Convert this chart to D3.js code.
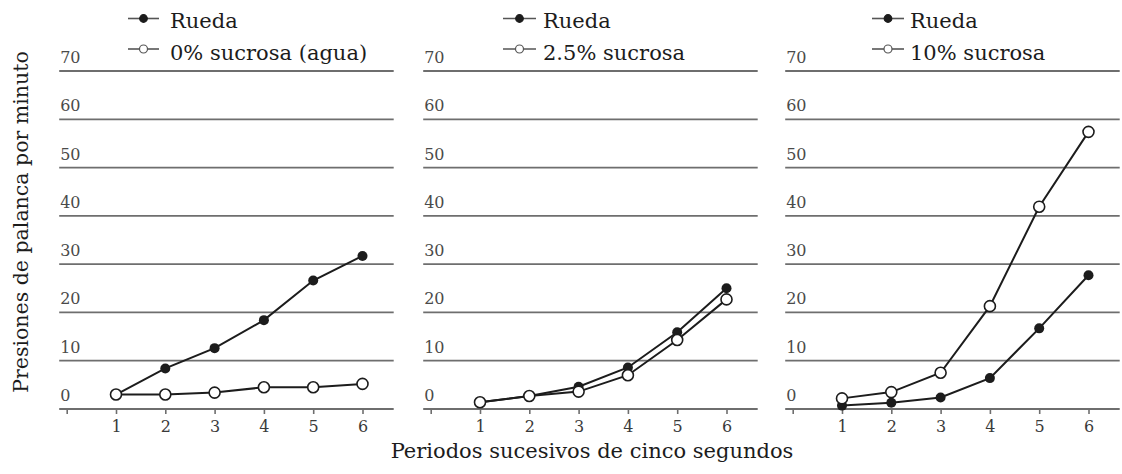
<!DOCTYPE html>
<html>
<head>
<meta charset="utf-8">
<script src="https://cdn.jsdelivr.net/npm/d3@7/dist/d3.min.js"></script>
<style>
  html, body { margin: 0; padding: 0; background: #fff; }
  svg { display: block; }
  text { font-family: "DejaVu Serif", "Liberation Serif", serif; }
</style>
</head>
<body>
<svg id="chart" width="1122" height="474"></svg>
<script>
// ---- data ----
const periods = [1, 2, 3, 4, 5, 6];
const yTicks = [0, 10, 20, 30, 40, 50, 60, 70];
const xTickValues = [0, 1, 2, 3, 4, 5, 6];
const wheelLabel = "Rueda";
const sucroseLabels = ["0% sucrosa (agua)", "2.5% sucrosa", "10% sucrosa"];
const wheel0 = [3.0, 8.4, 12.6, 18.4, 26.6, 31.7];
const sucrose0 = [3.0, 3.0, 3.4, 4.5, 4.5, 5.2];
const wheel25 = [1.4, 2.7, 4.6, 8.6, 15.9, 25.0];
const sucrose25 = [1.4, 2.7, 3.6, 7.0, 14.3, 22.7];
const wheel10 = [0.7, 1.3, 2.4, 6.4, 16.7, 27.7];
const sucrose10 = [2.2, 3.5, 7.5, 21.3, 41.9, 57.4];
const yTitle = "Presiones de palanca por minuto";
const xTitle = "Periodos sucesivos de cinco segundos";

const panels = [
  { wheel: wheel0, sucrose: sucrose0, label: sucroseLabels[0] },
  { wheel: wheel25, sucrose: sucrose25, label: sucroseLabels[1] },
  { wheel: wheel10, sucrose: sucrose10, label: sucroseLabels[2] }
];

// ---- layout ----
const svg = d3.select("#chart");
const origins = [66.7, 430.7, 792.7];
const legendX = [[128, 159, 170], [503, 536, 543], [872, 904, 910]];
const step = 49.3;
const y = d3.scaleLinear().domain([0, 70]).range([409, 71]);
const gridColor = "#6e6e6e";
const ink = "#1c1c1c";

panels.forEach((p, i) => {
  const x0 = origins[i];
  const x = d3.scaleLinear().domain([0, 6]).range([x0, x0 + 6 * step]);
  const g = svg.append("g");
  const left = x(0) - 7.5;
  const right = x(0) + 327;

  // gridlines
  g.selectAll("line.grid").data(yTicks).join("line")
    .attr("class", "grid")
    .attr("x1", left).attr("x2", right)
    .attr("y1", d => y(d)).attr("y2", d => y(d))
    .attr("stroke", gridColor).attr("stroke-width", 1.8);

  // y labels
  g.selectAll("text.ylab").data(yTicks).join("text")
    .attr("class", "ylab")
    .attr("x", left + 1).attr("y", d => y(d) - 8)
    .attr("font-size", 16).attr("fill", "#4a4a4a")
    .text(d => d);

  // x axis ticks
  const xAxis = d3.axisBottom(x).tickValues(xTickValues).tickSize(5)
    .tickFormat(d => d === 0 ? "" : d);
  const ax = g.append("g").attr("transform", `translate(0,${y(0)})`).call(xAxis);
  ax.select(".domain").remove();
  ax.selectAll(".tick line").attr("stroke", gridColor).attr("stroke-width", 1.6);
  ax.selectAll(".tick text")
    .attr("y", 12).attr("dy", "0.71em")
    .attr("font-size", 16).attr("fill", "#3a3a3a")
    .attr("font-family", "DejaVu Serif, serif");

  const line = d3.line().x((d, k) => x(periods[k])).y(d => y(d));

  // wheel series (filled)
  g.append("path").datum(p.wheel).attr("d", line)
    .attr("fill", "none").attr("stroke", ink).attr("stroke-width", 2);
  g.selectAll("circle.w").data(p.wheel).join("circle")
    .attr("class", "w")
    .attr("cx", (d, k) => x(periods[k])).attr("cy", d => y(d))
    .attr("r", 5).attr("fill", ink);

  // sucrose series (open)
  g.append("path").datum(p.sucrose).attr("d", line)
    .attr("fill", "none").attr("stroke", ink).attr("stroke-width", 2);
  g.selectAll("circle.s").data(p.sucrose).join("circle")
    .attr("class", "s")
    .attr("cx", (d, k) => x(periods[k])).attr("cy", d => y(d))
    .attr("r", 5.5).attr("fill", "#fff").attr("stroke", ink).attr("stroke-width", 1.6);

  // legend
  const [lx1, lx2, tx] = legendX[i];
  const lc = (lx1 + lx2) / 2;
  const lg = svg.append("g");
  [[18.5, wheelLabel, true, 28], [49, p.label, false, 60]].forEach(([ly, txt, filled, tb]) => {
    lg.append("line").attr("x1", lx1).attr("x2", lx2).attr("y1", ly).attr("y2", ly)
      .attr("stroke", "#555").attr("stroke-width", 1.6);
    lg.append("circle").attr("cx", lc).attr("cy", ly).attr("r", filled ? 3.8 : 4)
      .attr("fill", filled ? ink : "#fff").attr("stroke", filled ? ink : "#555").attr("stroke-width", 1.2);
    lg.append("text").attr("x", tx).attr("y", tb)
      .attr("font-size", 21).attr("fill", ink).text(txt);
  });
});

// axis titles
svg.append("text")
  .attr("transform", "translate(28,222) rotate(-90)")
  .attr("text-anchor", "middle").attr("font-size", 20.5).attr("fill", ink)
  .text(yTitle);
svg.append("text")
  .attr("x", 592).attr("y", 458)
  .attr("text-anchor", "middle").attr("font-size", 21).attr("fill", ink)
  .text(xTitle);
</script>
</body>
</html>
